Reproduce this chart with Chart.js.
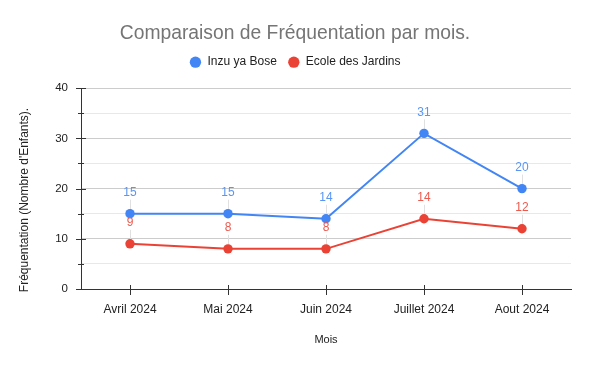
<!DOCTYPE html>
<html>
<head>
<meta charset="utf-8">
<script src="https://cdn.jsdelivr.net/npm/chart.js@4/dist/chart.umd.min.js"></script>
<style>
html,body{margin:0;padding:0;background:#fff;}
#wrap{width:590px;height:365px;position:relative;}
</style>
</head>
<body>
<div id="wrap"><canvas id="c" width="590" height="365"></canvas></div>
<script>
const categories = ["Avril 2024", "Mai 2024", "Juin 2024", "Juillet 2024", "Aout 2024"];
const seriesNames = ["Inzu ya Bose", "Ecole des Jardins"];
const inzuValues = [15, 15, 14, 31, 20];
const ecoleValues = [9, 8, 8, 14, 12];
const yTicks = [0, 10, 20, 30, 40];
const yTitle = "Fréquentation (Nombre d'Enfants).";

const FONT = "'Liberation Sans', Arial, sans-serif";
const BLUE = '#4285F4';
const RED = '#EA4335';

Chart.defaults.font.family = FONT;
Chart.defaults.color = '#222';

const legendSpacer = {
  id: 'legendSpacer',
  beforeUpdate(chart) {
    const lg = chart.legend;
    if (lg && !lg._patched) {
      const fit = lg.fit;
      lg.fit = function () { fit.call(this); this.height += 10; };
      lg._patched = true;
    }
  }
};

const axisMarks = {
  id: 'axisMarks',
  afterDraw(chart) {
    const ctx = chart.ctx;
    const x = chart.scales.x, y = chart.scales.y;
    ctx.save();
    ctx.strokeStyle = '#333';
    ctx.lineWidth = 1;
    ctx.beginPath();
    for (let v = 0; v <= 40; v += 5) {
      const py = Math.round(y.getPixelForValue(v)) + 0.5;
      const major = yTicks.includes(v);
      ctx.moveTo(x.left - (major ? 5 : 3), py);
      ctx.lineTo(x.left + (major ? 5 : 3), py);
    }
    categories.forEach((c, i) => {
      const px = Math.round(x.getPixelForValue(i)) + 0.5;
      ctx.moveTo(px, y.bottom - 4);
      ctx.lineTo(px, y.bottom + 6);
    });
    ctx.stroke();
    // y axis title
    ctx.fillStyle = '#222';
    ctx.font = '12px ' + FONT;
    ctx.textAlign = 'center';
    ctx.textBaseline = 'middle';
    ctx.translate(25, 200);
    ctx.rotate(-Math.PI / 2);
    ctx.fillText(yTitle, 0, 0);
    ctx.restore();
  }
};

const dataLabels = {
  id: 'dataLabels',
  beforeDatasetsDraw(chart) {
    const ctx = chart.ctx;
    ctx.save();
    ctx.strokeStyle = '#e0e0e0';
    ctx.lineWidth = 1;
    chart.data.datasets.forEach((ds, di) => {
      const meta = chart.getDatasetMeta(di);
      meta.data.forEach(pt => {
        const px = Math.round(pt.x) + 0.5;
        ctx.beginPath();
        ctx.moveTo(px, pt.y - 4);
        ctx.lineTo(px, pt.y - 14);
        ctx.stroke();
      });
    });
    ctx.restore();
  },
  afterDatasetsDraw(chart) {
    const ctx = chart.ctx;
    ctx.save();
    ctx.font = '12px ' + FONT;
    ctx.textAlign = 'center';
    ctx.textBaseline = 'middle';
    chart.data.datasets.forEach((ds, di) => {
      const meta = chart.getDatasetMeta(di);
      ctx.fillStyle = ds.labelColor;
      meta.data.forEach((pt, i) => {
        ctx.fillText(String(ds.data[i]), pt.x, pt.y - 21);
      });
    });
    ctx.restore();
  }
};

new Chart(document.getElementById('c'), {
  type: 'line',
  data: {
    labels: categories,
    datasets: [
      {
        label: seriesNames[0], data: inzuValues,
        borderColor: BLUE, backgroundColor: BLUE, labelColor: '#5a95f5',
        borderWidth: 2, pointRadius: 4.7, pointHoverRadius: 4.7, pointBorderWidth: 0, tension: 0
      },
      {
        label: seriesNames[1], data: ecoleValues,
        borderColor: RED, backgroundColor: RED, labelColor: '#ec5a4e',
        borderWidth: 2, pointRadius: 4.7, pointHoverRadius: 4.7, pointBorderWidth: 0, tension: 0
      }
    ]
  },
  options: {
    responsive: false,
    animation: false,
    devicePixelRatio: 1,
    layout: { padding: { left: 19, right: 19, top: 2, bottom: 0 } },
    plugins: {
      title: {
        display: true,
        text: 'Comparaison de Fréquentation par mois.',
        color: '#757575',
        font: { size: 19.3, weight: 'normal', family: FONT },
        padding: { top: 20, bottom: 0 }
      },
      legend: {
        display: true,
        labels: {
          usePointStyle: true, pointStyle: 'circle',
          boxWidth: 12, boxHeight: 8,
          font: { size: 12, family: FONT }, color: '#222',
          padding: 11
        }
      },
      tooltip: { enabled: false }
    },
    scales: {
      x: {
        offset: true,
        grid: { display: false, drawTicks: false },
        border: { display: true, color: '#333', width: 1 },
        ticks: { padding: 13, font: { size: 12, family: FONT }, color: '#222', maxRotation: 0 },
        title: { display: true, text: 'Mois', font: { size: 11, family: FONT }, color: '#222', padding: { top: 0, bottom: 18 } },
        afterFit(s) { s.height = 76; }
      },
      y: {
        min: 0, max: 40,
        grid: {
          drawTicks: false,
          color: ctx => (ctx.tick && ctx.tick.value % 10 === 0) ? '#cccccc' : '#e8e8e8'
        },
        border: { display: true, color: '#333', width: 1 },
        ticks: {
          stepSize: 5, padding: 13,
          font: { size: 11.5, family: FONT }, color: '#222',
          callback: v => yTicks.includes(v) ? String(v) : ''
        },
        title: { display: false },
        afterFit(s) { s.width = 62; }
      }
    }
  },
  plugins: [legendSpacer, dataLabels, axisMarks]
});
</script>
</body>
</html>
